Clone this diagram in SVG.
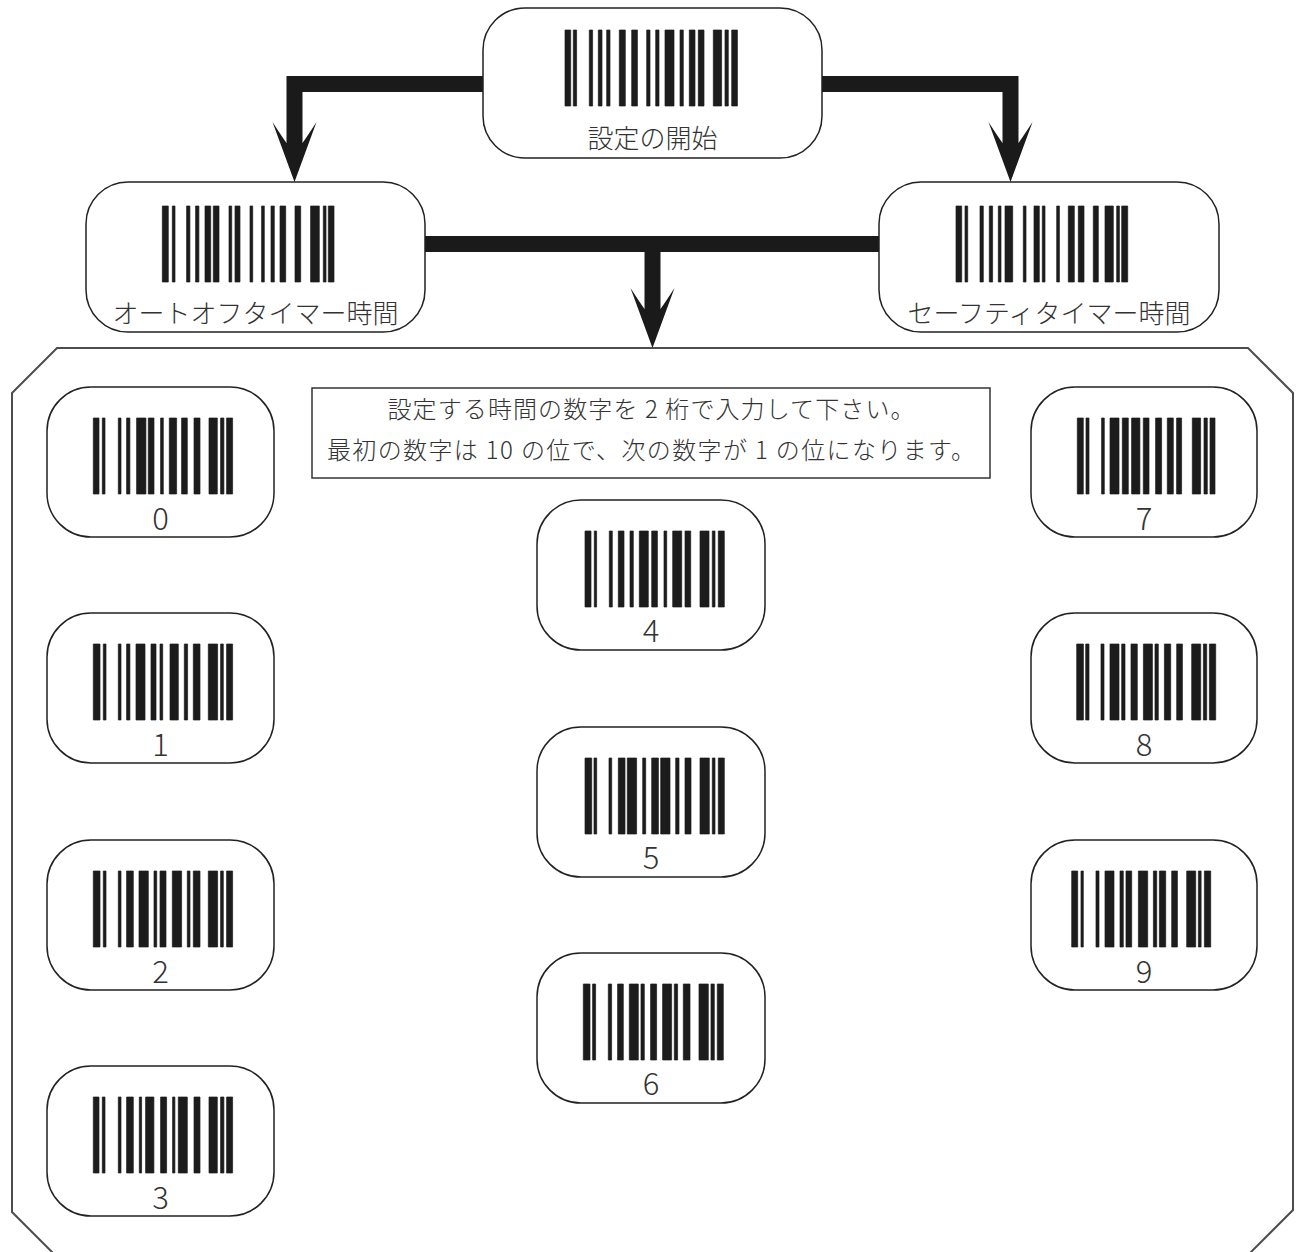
<svg xmlns="http://www.w3.org/2000/svg" width="1300" height="1252" viewBox="0 0 1300 1252">
<style>
.node{fill:#fff;stroke:#222;stroke-width:1.5}
.bar{fill:#1c1c1c;stroke:#1c1c1c;stroke-width:0.7}
.lbl{font-family:"Noto Sans CJK JP","Noto Sans",sans-serif;font-size:26px;font-weight:300;fill:#333;text-anchor:middle}
.dig{font-family:"Noto Sans CJK JP","Noto Sans",sans-serif;font-size:31px;font-weight:300;fill:#333;text-anchor:middle}
.note{font-family:"Noto Sans CJK JP","Noto Sans",sans-serif;font-size:24px;font-weight:300;fill:#333;text-anchor:middle}
.conn{fill:none;stroke:#1a1a1a;stroke-width:16;stroke-linejoin:miter;stroke-linecap:butt}
</style>
<defs>
<marker id="head" markerUnits="userSpaceOnUse" orient="auto" refX="0" refY="0" markerWidth="1" markerHeight="1" overflow="visible">
<path d="M39,0 L-21,-22 Q-7,-13 0,-8 L0,8 Q-7,13 -21,22 Z" fill="#1a1a1a"/>
</marker>
</defs>
<rect width="1300" height="1252" fill="#fff"/>
<g id="frame">
<polygon points="12,393 57,348 1248,348 1293,393 1293,1210 1248,1255 55,1255 12,1212" fill="#fff" stroke="#4d4d4d" stroke-width="2"/>
</g>
<g id="connectors">
<path class="conn" d="M483,84 H294.5 V143" marker-end="url(#head)"/>
<path class="conn" d="M822,84 H1010.5 V143" marker-end="url(#head)"/>
<path class="conn" d="M425,244 H879"/>
<path class="conn" d="M652.5,244 V309" marker-end="url(#head)"/>
</g>
<g id="node-start">
<rect class="node" x="483" y="8" width="339" height="150" rx="42"/>
<path class="bar" transform="translate(565,30)" d="M0 0h5.7v76h-5.7zM8.3 0h3.3v76h-3.3zM24.3 0h3.3v76h-3.3zM33.3 0h3.7v76h-3.7zM41.7 0h3.3v76h-3.3zM54.3 0h6v76h-6zM66.7 0h5.7v76h-5.7zM81.7 0h3.3v76h-3.3zM90.7 0h3.3v76h-3.3zM100 0h9v76h-9zM115 0h3.3v76h-3.3zM124.3 0h5.7v76h-5.7zM133.3 0h5.7v76h-5.7zM148.3 0h8.3v76h-8.3zM160 0h3.3v76h-3.3zM166.7 0h5.7v76h-5.7z"/>
<text class="lbl" x="652.5" y="148">設定の開始</text>
</g>
<g id="node-autooff">
<rect class="node" x="86" y="182" width="339" height="150" rx="42"/>
<path class="bar" transform="translate(162.3,206)" d="M0 0h6v76h-6zM10 0h2.7v76h-2.7zM24.3 0h3.3v76h-3.3zM33.3 0h3.3v76h-3.3zM42.7 0h5.7v76h-5.7zM51 0h5.7v76h-5.7zM66.7 0h2.7v76h-2.7zM72.7 0h5v76h-5zM87.7 0h2.7v76h-2.7zM99.3 0h2.7v76h-2.7zM108.7 0h3.3v76h-3.3zM117.7 0h5.7v76h-5.7zM132.7 0h5.7v76h-5.7zM148.3 0h8.7v76h-8.7zM161 0h2.7v76h-2.7zM166 0h5.7v76h-5.7z"/>
<text class="lbl" x="255.5" y="323">オートオフタイマー時間</text>
</g>
<g id="node-safety">
<rect class="node" x="879" y="182" width="340" height="150" rx="42"/>
<path class="bar" transform="translate(956,206)" d="M0 0h5.7v76h-5.7zM9 0h2.7v76h-2.7zM24 0h3.3v76h-3.3zM33.3 0h3.3v76h-3.3zM42.3 0h2.7v76h-2.7zM49 0h7.7v76h-7.7zM67.3 0h2.7v76h-2.7zM78 0h5.3v76h-5.3zM86.3 0h2.7v76h-2.7zM100.7 0h2.7v76h-2.7zM112.3 0h6v76h-6zM122.3 0h5.7v76h-5.7zM137.3 0h5v76h-5zM149 0h8.3v76h-8.3zM160.7 0h2.7v76h-2.7zM165.7 0h6v76h-6z"/>
<text class="lbl" x="1049" y="323">セーフティタイマー時間</text>
</g>
<g id="note">
<rect x="312" y="388" width="678" height="90" fill="#fff" stroke="#333" stroke-width="1.5"/>
<text class="note" x="651" y="418" textLength="527" lengthAdjust="spacing">設定する時間の数字を 2 桁で入力して下さい。</text>
<text class="note" x="651" y="459" textLength="648" lengthAdjust="spacing">最初の数字は 10 の位で、次の数字が 1 の位になります。</text>
</g>
<g id="digit-0">
<rect class="node" x="47" y="387" width="227" height="150" rx="44"/>
<path class="bar" transform="translate(93.3,418)" d="M0 0h5.7v76h-5.7zM9 0h2.7v76h-2.7zM25 0h2.7v76h-2.7zM33.3 0h3.3v76h-3.3zM43.3 0h9.3v76h-9.3zM55 0h5.7v76h-5.7zM67.3 0h2.7v76h-2.7zM76 0h7.3v76h-7.3zM88.3 0h5.7v76h-5.7zM100.7 0h6v76h-6zM115.7 0h8.3v76h-8.3zM127.3 0h3.3v76h-3.3zM133.3 0h6v76h-6z"/>
<text class="dig" x="160.5" y="530">0</text>
</g>
<g id="digit-1">
<rect class="node" x="47" y="613" width="227" height="150" rx="44"/>
<path class="bar" transform="translate(93.3,644)" d="M0 0h6.7v76h-6.7zM10 0h2.7v76h-2.7zM25 0h2.7v76h-2.7zM33.3 0h3.3v76h-3.3zM42.7 0h9v76h-9zM57.7 0h5v76h-5zM66.7 0h2.7v76h-2.7zM76.7 0h8.3v76h-8.3zM91 0h3.3v76h-3.3zM100 0h6.7v76h-6.7zM115 0h9.3v76h-9.3zM127.3 0h2.7v76h-2.7zM133.3 0h6v76h-6z"/>
<text class="dig" x="160.5" y="756">1</text>
</g>
<g id="digit-2">
<rect class="node" x="47" y="840" width="227" height="150" rx="44"/>
<path class="bar" transform="translate(93.3,871)" d="M0 0h6.7v76h-6.7zM10 0h2.7v76h-2.7zM25 0h2.7v76h-2.7zM33.3 0h6.7v76h-6.7zM45.7 0h9.3v76h-9.3zM60.7 0h2.7v76h-2.7zM66.7 0h6v76h-6zM79 0h9.3v76h-9.3zM94 0h2.7v76h-2.7zM100 0h6.7v76h-6.7zM115 0h9.3v76h-9.3zM127.3 0h2.7v76h-2.7zM133.3 0h6v76h-6z"/>
<text class="dig" x="160.5" y="983">2</text>
</g>
<g id="digit-3">
<rect class="node" x="47" y="1066" width="227" height="150" rx="44"/>
<path class="bar" transform="translate(93.3,1097)" d="M0 0h5.7v76h-5.7zM9 0h2.7v76h-2.7zM25 0h2.7v76h-2.7zM33.3 0h6.7v76h-6.7zM46 0h2.3v76h-2.3zM52.3 0h8.3v76h-8.3zM67.3 0h6v76h-6zM79.3 0h2.3v76h-2.3zM85 0h9v76h-9zM100.7 0h6v76h-6zM115.7 0h8.3v76h-8.3zM127.3 0h3.3v76h-3.3zM133.3 0h6v76h-6z"/>
<text class="dig" x="160.5" y="1209">3</text>
</g>
<g id="digit-4">
<rect class="node" x="537" y="500" width="228" height="150" rx="44"/>
<path class="bar" transform="translate(585,531)" d="M0 0h6v76h-6zM9.3 0h2.3v76h-2.3zM24.3 0h3v76h-3zM33.3 0h5.7v76h-5.7zM45 0h3.3v76h-3.3zM54.3 0h9v76h-9zM66.7 0h5.7v76h-5.7zM79 0h2.7v76h-2.7zM87.7 0h9v76h-9zM100 0h5.7v76h-5.7zM115 0h9v76h-9zM127.3 0h2.7v76h-2.7zM133.3 0h6v76h-6z"/>
<text class="dig" x="651" y="642">4</text>
</g>
<g id="digit-5">
<rect class="node" x="537" y="727" width="228" height="150" rx="44"/>
<path class="bar" transform="translate(585,758)" d="M0 0h6.7v76h-6.7zM9 0h2.7v76h-2.7zM24 0h2.7v76h-2.7zM33.3 0h6.7v76h-6.7zM42.3 0h9.3v76h-9.3zM57.7 0h3v76h-3zM66.7 0h6.7v76h-6.7zM75.7 0h9.3v76h-9.3zM90.7 0h3.3v76h-3.3zM100 0h6v76h-6zM115 0h9.3v76h-9.3zM127.3 0h2.7v76h-2.7zM133.3 0h6v76h-6z"/>
<text class="dig" x="651" y="869">5</text>
</g>
<g id="digit-6">
<rect class="node" x="537" y="953" width="228" height="150" rx="44"/>
<path class="bar" transform="translate(583.3,984)" d="M0 0h6.7v76h-6.7zM9.3 0h3v76h-3zM25 0h3.3v76h-3.3zM34.3 0h5.7v76h-5.7zM46 0h9v76h-9zM57.7 0h3.3v76h-3.3zM67.3 0h6v76h-6zM79.3 0h9v76h-9zM91 0h3.3v76h-3.3zM100 0h6.7v76h-6.7zM115.7 0h9.3v76h-9.3zM127.7 0h3.3v76h-3.3zM134 0h6v76h-6z"/>
<text class="dig" x="651" y="1095">6</text>
</g>
<g id="digit-7">
<rect class="node" x="1031" y="387" width="226" height="150" rx="44"/>
<path class="bar" transform="translate(1077.3,418)" d="M0 0h6v76h-6zM8.7 0h3v76h-3zM24.3 0h2.7v76h-2.7zM32.7 0h9v76h-9zM45 0h6v76h-6zM54.3 0h8.3v76h-8.3zM66 0h5.7v76h-5.7zM78.3 0h6v76h-6zM90 0h6v76h-6zM99.3 0h5v76h-5zM115 0h8.3v76h-8.3zM126.7 0h3.3v76h-3.3zM132.7 0h5v76h-5z"/>
<text class="dig" x="1144" y="530">7</text>
</g>
<g id="digit-8">
<rect class="node" x="1031" y="613" width="226" height="150" rx="44"/>
<path class="bar" transform="translate(1076.7,644)" d="M0 0h6.7v76h-6.7zM9 0h3.3v76h-3.3zM24.3 0h3v76h-3zM33.3 0h9v76h-9zM45 0h3.3v76h-3.3zM54.3 0h6.3v76h-6.3zM66.7 0h9v76h-9zM78.3 0h3.3v76h-3.3zM87.7 0h6.3v76h-6.3zM100 0h5.7v76h-5.7zM115 0h9v76h-9zM126.7 0h3.3v76h-3.3zM132.7 0h6.3v76h-6.3z"/>
<text class="dig" x="1144" y="756">8</text>
</g>
<g id="digit-9">
<rect class="node" x="1031" y="840" width="226" height="150" rx="44"/>
<path class="bar" transform="translate(1071.7,871)" d="M0 0h6v76h-6zM9.3 0h2.3v76h-2.3zM24.3 0h3v76h-3zM33.3 0h9v76h-9zM48.3 0h3.3v76h-3.3zM54.3 0h5.7v76h-5.7zM66.7 0h9.3v76h-9.3zM81.7 0h3.3v76h-3.3zM87.7 0h6.3v76h-6.3zM100 0h5.7v76h-5.7zM115 0h9v76h-9zM126.7 0h2.7v76h-2.7zM132.7 0h6.3v76h-6.3z"/>
<text class="dig" x="1144" y="983">9</text>
</g>
</svg>
